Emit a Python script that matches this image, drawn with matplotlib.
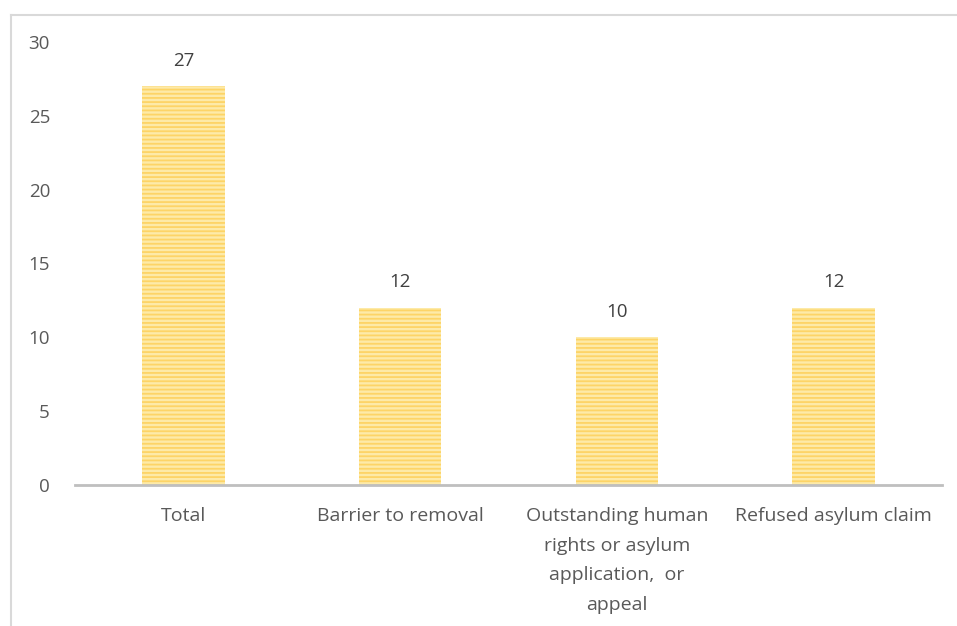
import matplotlib.pyplot as plt
from matplotlib.lines import Line2D

categories = ["Total", "Barrier to removal",
              "Outstanding human\nrights or asylum\napplication,  or\nappeal",
              "Refused asylum claim"]
values = [27, 12, 10, 12]
yticks = [0, 5, 10, 15, 20, 25, 30]

plt.rcParams['font.family'] = ['Open Sans', 'DejaVu Sans']
plt.rcParams['hatch.linewidth'] = 1.3
txt = '#595959'

fig = plt.figure(figsize=(9.57, 6.26), dpi=100)
ax = fig.add_axes([75 / 957, 1 - 485 / 626, (942 - 75) / 957, (485 - 42) / 626])

x = range(len(categories))
bars = ax.bar(x, values, width=0.38, color='#fdeaa8', edgecolor='#fdd466',
              hatch='----', linewidth=0)

for b, v in zip(bars, values):
    ax.annotate(str(v), (b.get_x() + b.get_width() / 2, v), xytext=(0, 12),
                textcoords='offset points', ha='center', va='bottom',
                fontsize=13.5, color='#404040')

ax.set_xlim(-0.5, len(categories) - 0.5)
ax.set_ylim(0, 30)
ax.set_yticks(yticks)
ax.set_xticks(list(x))
ax.set_xticklabels(categories, fontsize=14, color=txt, linespacing=1.82)
ax.tick_params(axis='y', length=0, pad=18, labelsize=13.5, labelcolor=txt)
ax.tick_params(axis='x', length=0, pad=16)
for s in ['top', 'right', 'left']:
    ax.spines[s].set_visible(False)
ax.spines['bottom'].set_color('#bfbfbf')
ax.spines['bottom'].set_linewidth(2)

# chart frame (partially cropped)
fig.add_artist(Line2D([11 / 957, 11 / 957], [0, 1 - 15 / 626],
                      color='#d9d9d9', lw=1.5, transform=fig.transFigure))
fig.add_artist(Line2D([11 / 957, 1], [1 - 15 / 626, 1 - 15 / 626],
                      color='#d9d9d9', lw=1.5, transform=fig.transFigure))

fig.savefig('out.png', dpi=100)
